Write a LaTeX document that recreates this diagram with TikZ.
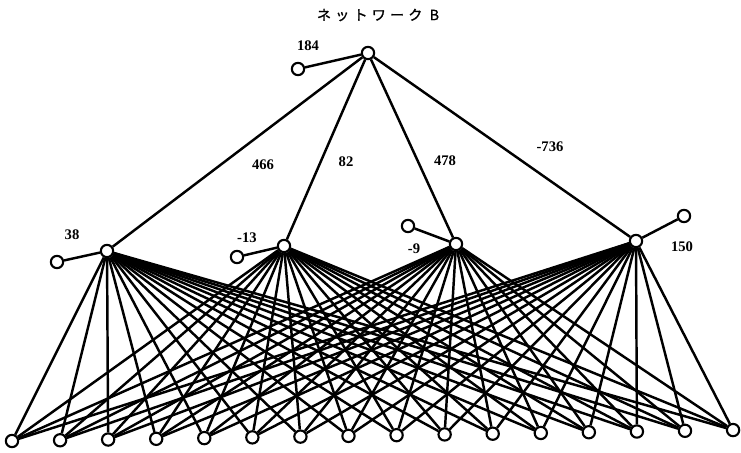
\documentclass[tikz,border=0pt]{standalone}
\usepackage{fontspec}
\setmainfont{Liberation Serif}
\newfontfamily\jpfont[LetterSpace=30,FakeBold=1.5]{Noto Sans CJK JP}
\begin{document}
\begin{tikzpicture}[x=0.03cm,y=-0.03cm,
 unit/.style={draw,circle,fill=white,inner sep=0pt,minimum size=10.5pt,line width=1.8pt},
 link/.style={line width=2.1pt},
 wt/.style={font=\fontsize{12.5}{15}\selectfont\bfseries}]
\useasboundingbox (0,0) rectangle (741,452);
\node[font=\jpfont\fontsize{12}{14}\selectfont] (title) at (378,15) {ネットワーク B};
% output unit and its bias
\node[unit] (out) at (368,53) {};
\node[unit] (b0) at (298,69) {};
\node[wt] (t0) at (308,46) {184};
% hidden units
\node[unit] (h1) at (107,251) {};
\node[unit] (h2) at (284,246) {};
\node[unit] (h3) at (456,244) {};
\node[unit] (h4) at (636,241) {};
\node[unit] (b1) at (57,262) {};
\node[unit] (b2) at (237,257) {};
\node[unit] (b3) at (408,226) {};
\node[unit] (b4) at (684,216) {};
\node[wt] (t1) at (72,235) {38};
\node[wt] (t2) at (247,238) {-13};
\node[wt] (t3) at (414,249) {-9};
\node[wt] (t4) at (682,247) {150};
% input units
\foreach \i in {1,...,16}
  \node[unit] (in\i) at ({12+48.07*(\i-1)},{441-0.73*(\i-1)}) {};
\foreach \h in {1,...,4}
  \foreach \i in {1,...,16}
    \draw[link] (h\h) -- (in\i);
\foreach \h in {0,...,4}
  \draw[link] (\ifnum\h=0 out\else h\h\fi) -- (b\h);
\foreach \h in {1,...,4}
  \draw[link] (out) -- (h\h);
% weights to output
\node[wt] (w1) at (263,165) {466};
\node[wt] (w2) at (346,162) {82};
\node[wt] (w3) at (445,161) {478};
\node[wt] (w4) at (550,147) {-736};
\end{tikzpicture}
\end{document}
